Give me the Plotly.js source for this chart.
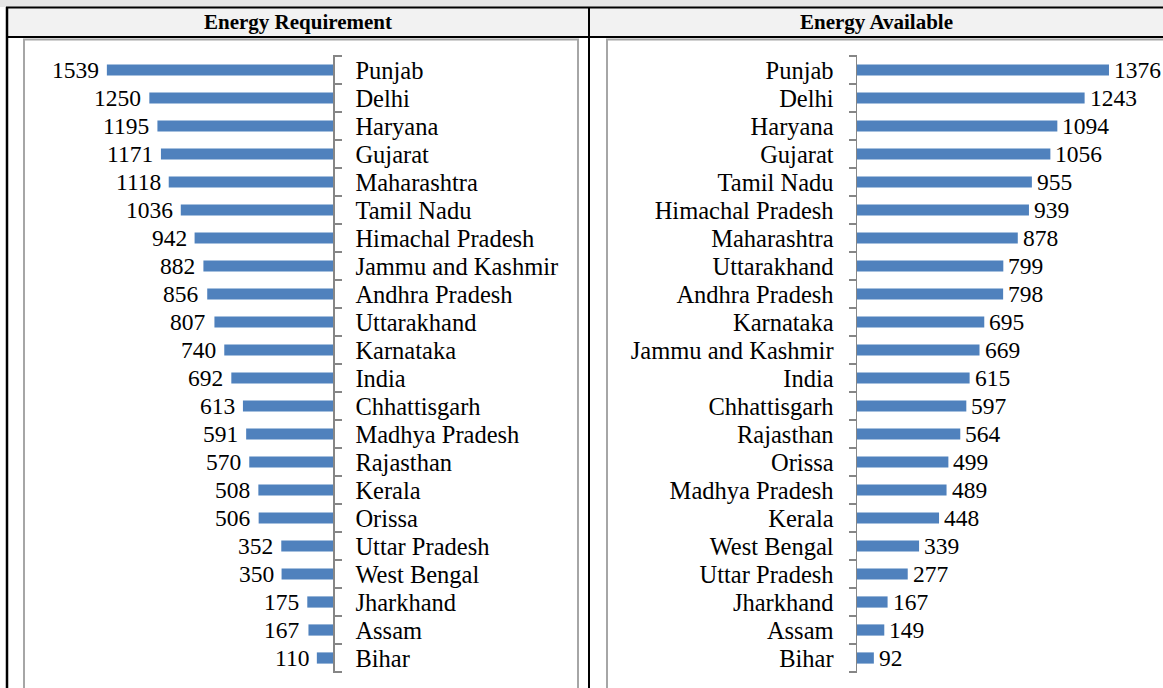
<!DOCTYPE html>
<html>
<head>
<meta charset="utf-8">
<script src="https://cdn.plot.ly/plotly-3.0.1.min.js"></script>
<style>html,body{margin:0;padding:0;background:#fff;}#chart{width:1163px;height:688px;}</style>
</head>
<body>
<div id="chart"></div>
<script>
// Data (top to bottom order)
const reqStates = ["Punjab","Delhi","Haryana","Gujarat","Maharashtra","Tamil Nadu","Himachal Pradesh","Jammu and Kashmir","Andhra Pradesh","Uttarakhand","Karnataka","India","Chhattisgarh","Madhya Pradesh","Rajasthan","Kerala","Orissa","Uttar Pradesh","West Bengal","Jharkhand","Assam","Bihar"];
const reqValues = [1539,1250,1195,1171,1118,1036,942,882,856,807,740,692,613,591,570,508,506,352,350,175,167,110];
const availStates = ["Punjab","Delhi","Haryana","Gujarat","Tamil Nadu","Himachal Pradesh","Maharashtra","Uttarakhand","Andhra Pradesh","Karnataka","Jammu and Kashmir","India","Chhattisgarh","Rajasthan","Orissa","Madhya Pradesh","Kerala","West Bengal","Uttar Pradesh","Jharkhand","Assam","Bihar"];
const availValues = [1376,1243,1094,1056,955,939,878,799,798,695,669,615,597,564,499,489,448,339,277,167,149,92];
const panelTitles = ["Energy Requirement","Energy Available"];

const W = 1163, H = 688;
const px = x => x / W;
const py = y => 1 - y / H;
const FONT = "Liberation Serif";
const LBL = 24.5, NUM = 23.5, HDR = 21;
const BLUE = "#4f81bd";

const traces = [
  {type:"bar", orientation:"h", x:reqValues, y:reqStates, xaxis:"x", yaxis:"y",
   marker:{color:BLUE}, width:0.4, hoverinfo:"none"},
  {type:"bar", orientation:"h", x:availValues, y:availStates, xaxis:"x2", yaxis:"y2",
   marker:{color:BLUE}, width:0.4, hoverinfo:"none"}
];

const annotations = [];
reqStates.forEach((s,i)=>annotations.push({xref:"x", yref:"y", x:reqValues[i], y:s, text:String(reqValues[i]),
  showarrow:false, xanchor:"right", xshift:-6, font:{family:FONT,size:NUM,color:"#000"}}));
availStates.forEach((s,i)=>annotations.push({xref:"x2", yref:"y2", x:availValues[i], y:s, text:String(availValues[i]),
  showarrow:false, xanchor:"left", xshift:3, font:{family:FONT,size:NUM,color:"#000"}}));
annotations.push({xref:"paper", yref:"paper", x:px(298), y:py(22), text:"<b>"+panelTitles[0]+"</b>", showarrow:false,
  xanchor:"center", yanchor:"middle", font:{family:FONT,size:HDR,color:"#000"}});
annotations.push({xref:"paper", yref:"paper", x:px(876), y:py(22), text:"<b>"+panelTitles[1]+"</b>", showarrow:false,
  xanchor:"center", yanchor:"middle", font:{family:FONT,size:HDR,color:"#000"}});

const shapes = [
  {type:"rect", xref:"paper", yref:"paper", x0:0, x1:1, y0:py(7), y1:1, fillcolor:"#e6e6e6", line:{width:0}, layer:"below"},
  {type:"rect", xref:"paper", yref:"paper", x0:px(7), x1:1, y0:py(37), y1:py(7), fillcolor:"#f2f2f2", line:{width:0}, layer:"below"},
  {type:"line", xref:"paper", yref:"paper", x0:px(6), x1:px(1170), y0:py(7.5), y1:py(7.5), line:{color:"#000",width:2}},
  {type:"line", xref:"paper", yref:"paper", x0:px(6), x1:px(1170), y0:py(37), y1:py(37), line:{color:"#000",width:2}},
  {type:"line", xref:"paper", yref:"paper", x0:px(7), x1:px(7), y0:py(7), y1:py(700), line:{color:"#000",width:2.5}},
  {type:"line", xref:"paper", yref:"paper", x0:px(589), x1:px(589), y0:py(7), y1:py(700), line:{color:"#000",width:2}},
  {type:"rect", xref:"paper", yref:"paper", x0:px(24), x1:px(578), y0:py(39.5), y1:py(720), line:{color:"#a6a6a6",width:2}, layer:"below"},
  {type:"rect", xref:"paper", yref:"paper", x0:px(607), x1:px(1200), y0:py(39.5), y1:py(720), line:{color:"#a6a6a6",width:2}, layer:"below"}
];

const yTop = 55, yBot = 673;
const axisCommon = {type:"category", autorange:"reversed", showline:true, linecolor:"#868686", linewidth:1.5,
  ticks:"outside", ticklen:7, tickcolor:"#868686", tickwidth:1.5, tickson:"boundaries",
  showgrid:false, zeroline:false, tickfont:{family:FONT,size:LBL,color:"#000"}};
const layout = {
  width:W, height:H, margin:{l:0,r:0,t:0,b:0},
  paper_bgcolor:"#fff", plot_bgcolor:"rgba(0,0,0,0)",
  showlegend:false, bargap:0.6,
  font:{family:FONT, size:LBL, color:"#000"},
  xaxis:{domain:[px(24), px(333)], range:[2103, 0], visible:false, fixedrange:true},
  yaxis:Object.assign({}, axisCommon, {domain:[py(yBot), py(yTop)], anchor:"x", side:"right",
    tickmode:"array", tickvals:reqStates, ticktext:reqStates, ticklabelstandoff:16}),
  xaxis2:{domain:[px(857), 1], range:[0, 1671], visible:false, fixedrange:true, anchor:"y2"},
  yaxis2:Object.assign({}, axisCommon, {domain:[py(yBot), py(yTop)], anchor:"x2", side:"left",
    tickmode:"array", tickvals:availStates, ticktext:availStates, ticklabelstandoff:17}),
  annotations:annotations, shapes:shapes
};
Plotly.newPlot("chart", traces, layout, {staticPlot:true, displayModeBar:false});
</script>
</body>
</html>
